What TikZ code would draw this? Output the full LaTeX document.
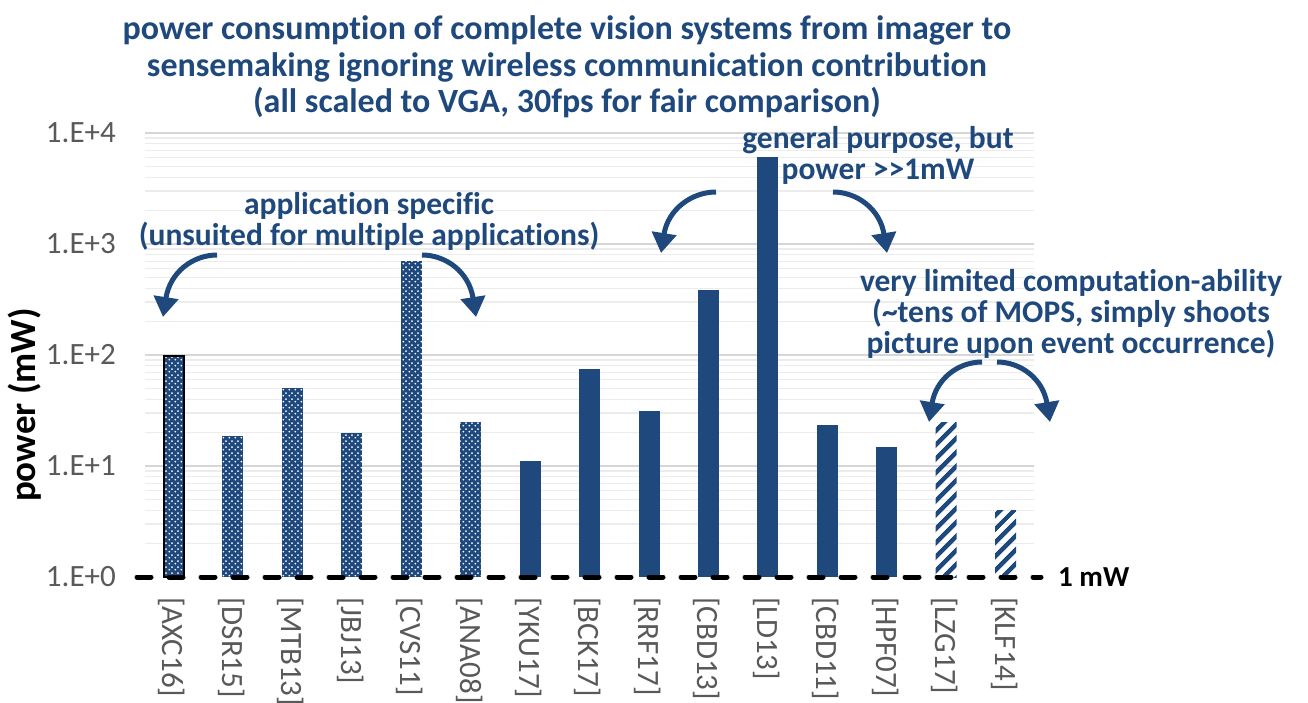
\documentclass[tikz,border=0pt]{standalone}
\usepackage{fontspec}
\setmainfont{Carlito}[Ligatures={NoCommon}]
\usetikzlibrary{arrows.meta,patterns.meta}
\definecolor{barblue}{RGB}{31,73,125}
\definecolor{axisgray}{RGB}{89,89,89}
\definecolor{majgrid}{RGB}{214,214,214}
\definecolor{mingrid}{RGB}{236,236,236}

% white dots on a diagonal lattice, laid over a blue fill
\pgfdeclarepattern{
  name=dotgrid, type=uncolored,
  bottom left={\pgfpoint{0pt}{0pt}}, top right={\pgfpoint{6pt}{6pt}},
  tile size={\pgfpoint{6pt}{6pt}},
  code={
    \pgfpathcircle{\pgfpoint{1.5pt}{1.5pt}}{1.05pt}
    \pgfpathcircle{\pgfpoint{4.5pt}{4.5pt}}{1.05pt}
    \pgfusepath{fill}
  }
}

\tikzset{
  chkbar/.style={preaction={fill=barblue}, pattern=dotgrid, pattern color=white},
  solidbar/.style={fill=barblue},
  stripebar/.style={pattern={Lines[angle=45,distance=10.5pt,line width=5pt]}, pattern color=barblue},
  ticklab/.style={text=axisgray, font=\fontsize{31}{31}\selectfont, inner sep=0pt},
  catlab/.style={text=axisgray, font=\fontsize{31}{31}\selectfont, inner sep=0pt, rotate=-90, anchor=west},
  note/.style={text=barblue, font=\bfseries\fontsize{31.5}{31}\selectfont, align=center, inner sep=0pt},
  bigarrow/.style={draw=barblue, line width=5pt, -{Triangle[length=20pt,width=24pt]}},
}

\begin{document}
\begin{tikzpicture}[x=1pt,y=-1pt]
\useasboundingbox (0,0) rectangle (1308,702);

% log gridlines: minor lines inside each decade, then the decade lines
\foreach \base in {577,466,355,244}{
  \foreach \m in {2,...,9}{
    \pgfmathsetmacro{\yy}{\base-111*log10(\m)}
    \draw[mingrid, line width=1.2pt] (145,\yy) -- (1034,\yy);
  }
}
\foreach \yy in {133,244,355,466}{
  \draw[majgrid, line width=1.5pt] (145,\yy) -- (1034,\yy);
}

% bars
\foreach \i/\t/\s in {0/356/chkbar, 1/436/chkbar, 2/388/chkbar, 3/433/chkbar,
    4/261/chkbar, 5/422/chkbar, 6/461/solidbar, 7/369/solidbar, 8/411/solidbar,
    9/290/solidbar, 10/157/solidbar, 11/425/solidbar, 12/447/solidbar,
    13/422/stripebar, 14/510/stripebar}{
  \path[\s] ({163+59.44*\i},\t) rectangle ({184+59.44*\i},577);
}
\draw[black, line width=2pt] (163.5,356) rectangle (183.5,577);

% 1 mW reference line
\coordinate (refL) at (137,577);
\coordinate (refR) at (1041,577);
\draw[black, line width=5pt, line cap=round, dash pattern=on 14pt off 18pt] (refL) -- (refR);
\node[font=\bfseries\fontsize{29}{29}\selectfont, anchor=west, inner sep=0pt] (onemw) at (1058,577) {1 mW};

% value axis
\node[ticklab, anchor=east] (e4) at (116,133) {1.E+4};
\node[ticklab, anchor=east] (e3) at (116,244) {1.E+3};
\node[ticklab, anchor=east] (e2) at (116,355) {1.E+2};
\node[ticklab, anchor=east] (e1) at (116,466) {1.E+1};
\node[ticklab, anchor=east] (e0) at (116,577) {1.E+0};
\node[font=\bfseries\fontsize{37}{37}\selectfont, rotate=90, inner sep=0pt] (ytitle) at (25,405) {power (mW)};

% category labels
\foreach \i/\lab in {0/AXC16, 1/DSR15, 2/MTB13, 3/JBJ13, 4/CVS11, 5/ANA08, 6/YKU17,
    7/BCK17, 8/RRF17, 9/CBD13, 10/LD13, 11/CBD11, 12/HPF07, 13/LZG17, 14/KLF14}{
  \node[catlab] (cat\i) at ({172+59.44*\i},597) {[\lab]};
}

% title
\node[text=barblue, font=\bfseries\fontsize{34}{36.5}\selectfont, align=center, inner sep=0pt] (title) at (567,67)
  {power consumption of complete vision systems from imager to\\
   sensemaking ignoring wireless communication contribution\\
   (all scaled to VGA, 30fps for fair comparison)};

% annotations
\node[note] (appspec) at (369,221) {application specific\\(unsuited for multiple applications)};
\node[note] (genpurp) at (878,155) {general purpose, but\\power >{}>1mW};
\node[note] (limited) at (1071,314) {very limited computation-ability\\(\textasciitilde tens of MOPS, simply shoots\\picture upon event occurrence)};

% annotation arrows
\coordinate (a1s) at (217,255); \coordinate (a1e) at (163,317);
\coordinate (a2s) at (422,255); \coordinate (a2e) at (476,317);
\coordinate (a3s) at (716,192); \coordinate (a3e) at (661,253);
\coordinate (a4s) at (833,192); \coordinate (a4e) at (887,253);
\coordinate (a5s) at (982,362); \coordinate (a5e) at (929,422);
\coordinate (a6s) at (997,362); \coordinate (a6e) at (1050,422);
\draw[bigarrow] (a1s) .. controls (193,255) and (170,272) .. (a1e);
\draw[bigarrow] (a2s) .. controls (446,255) and (469,272) .. (a2e);
\draw[bigarrow] (a3s) .. controls (692,192) and (668,209) .. (a3e);
\draw[bigarrow] (a4s) .. controls (857,192) and (880,209) .. (a4e);
\draw[bigarrow] (a5s) .. controls (958,362) and (936,379) .. (a5e);
\draw[bigarrow] (a6s) .. controls (1021,362) and (1043,379) .. (a6e);
\end{tikzpicture}
\end{document}
